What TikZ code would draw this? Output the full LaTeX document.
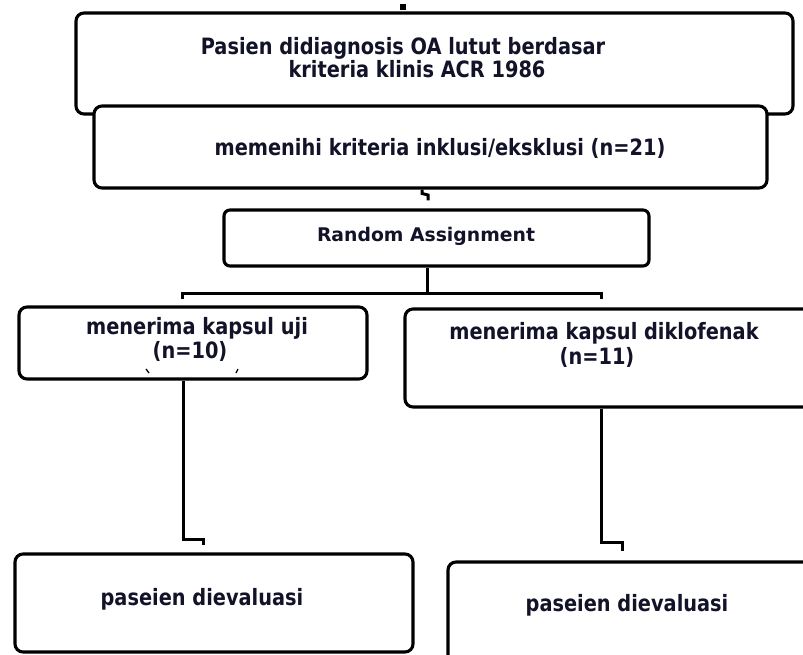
\documentclass[tikz,border=0pt]{standalone}
\usepackage{fontspec}
\usetikzlibrary{calc}
\setmainfont{DejaVu Sans}
\newfontfamily\condfont[FakeStretch=0.86]{DejaVu Sans}
\definecolor{txt}{RGB}{18,18,40}
\tikzset{
  box/.style={draw=black, line width=3.1pt, rounded corners=8pt, fill=white, inner sep=0pt},
  lbl/.style={anchor=base, inner sep=0pt, text=txt, font=\condfont\bfseries\fontsize{22.5}{23}\selectfont},
  lblw/.style={anchor=base, inner sep=0pt, text=txt, font=\bfseries\fontsize{18.8}{20}\selectfont},
  conn/.style={draw=black, line width=3pt},
  tick/.style={draw=black, line width=1.3pt}
}
\begin{document}
\begin{tikzpicture}[x=1pt,y=-1pt]
\useasboundingbox (0,0) rectangle (803,655);
\clip (0,0) rectangle (803,655);
\fill[white] (0,0) rectangle (803,655);

% top stub
\node[fill=black, minimum width=6pt, minimum height=6pt, inner sep=0pt] (stub) at (403,7) {};

% boxes
\node[box, minimum width=717pt, minimum height=101pt] (b1) at (434.5,63.5) {};
\node[box, minimum width=673pt, minimum height=82pt] (b2) at (430.5,147) {};
\node[box, rounded corners=6pt, minimum width=425pt, minimum height=56pt] (rand) at (436.5,238) {};
\node[box, minimum width=348pt, minimum height=72pt] (uji) at (193,343) {};
\node[box, minimum width=425pt, minimum height=98pt] (diklo) at (617.5,358) {};
\node[box, minimum width=398pt, minimum height=98pt] (evl) at (214,603) {};
\node[box, minimum width=392pt, minimum height=103pt] (evr) at (644,613.5) {};

% texts
\node[lbl] (t1a) at (403,55) {Pasien didiagnosis OA lutut berdasar};
\node[lbl] (t1b) at (417,78) {kriteria klinis ACR 1986};
\node[lbl] (t2) at (440,156) {memenihi kriteria inklusi/eksklusi (n=21)};
\node[lblw] (t3) at (426,241) {Random Assignment};
\node[lbl] (t4a) at (197,334) {menerima kapsul uji};
\node[lbl] (t4b) at (190,358) {(n=10)};
\node[lbl] (t5a) at (604,339) {menerima kapsul diklofenak};
\node[lbl] (t5b) at (597,364) {(n=11)};
\node[lbl] (t6) at (202,605) {paseien dievaluasi};
\node[lbl] (t7) at (627,611) {paseien dievaluasi};

% small marks under (n=10)
\draw[tick] (146,369) -- (149,373);
\draw[tick] (238,369) -- (236,373);

% connectors
\coordinate (sqA) at (422,193.5);
\draw[conn] (b2.south -| sqA) -- (sqA) -- ++(6,1.5) -- ++(0,5.5);

\coordinate (split) at (427,293);
\coordinate (spl) at (182,293);
\coordinate (spr) at (601,293);
\draw[conn] (rand.south -| split) -- (split);
\draw[conn] ($(spl)+(0,6)$) -- (spl) -- (spr) -- ++(0,6);

\coordinate (lj) at (183,539);
\draw[conn] (uji.south -| lj) -- (lj) -- ++(20,0) -- ++(0,6);
\coordinate (rj) at (601,542);
\draw[conn] (diklo.south -| rj) -- (rj) -- ++(21,0) -- ++(0,9);
\end{tikzpicture}
\end{document}
